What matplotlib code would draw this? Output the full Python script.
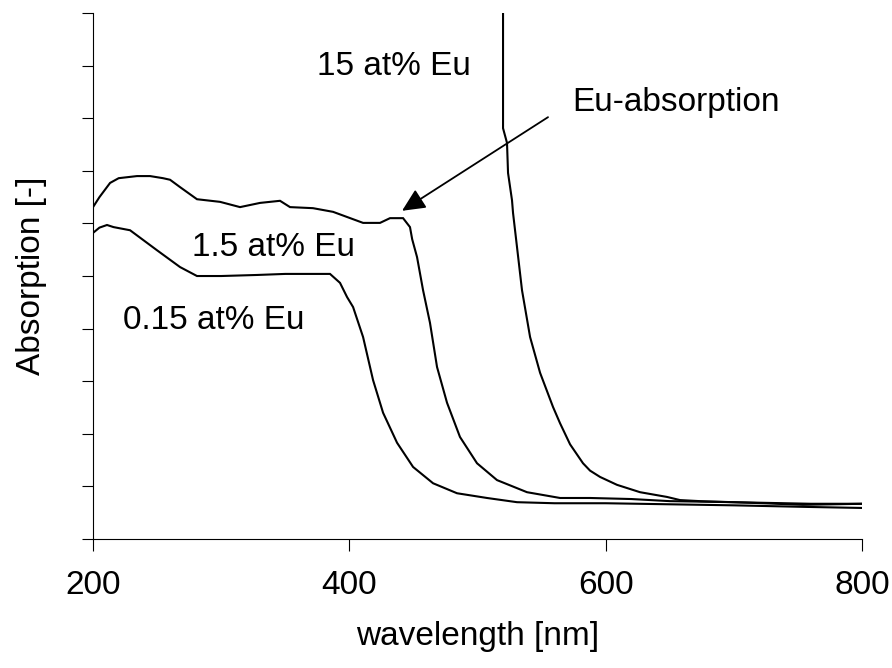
import matplotlib
matplotlib.use("Agg")
import matplotlib.pyplot as plt

plt.rcParams['font.family'] = ['Liberation Sans', 'DejaVu Sans']

# 0.15 at% Eu
wl_low = [200, 205, 210.9, 216, 228.9, 249.9, 267.9, 281.1, 300, 328, 350, 384.9, 392.7,
          398.2, 402.9, 410.7, 418.5, 426.3, 437.2, 449.7, 465.3, 484, 507.4, 530.8, 560,
          600, 650, 700, 757, 800.8]
abs_low = [5.82, 5.92, 5.97, 5.93, 5.87, 5.49, 5.17, 5.00, 5.00, 5.02, 5.04, 5.04, 4.87,
           4.60, 4.41, 3.84, 3.02, 2.40, 1.83, 1.37, 1.06, 0.87, 0.78, 0.70, 0.68,
           0.68, 0.66, 0.64, 0.61, 0.59]

# 1.5 at% Eu
wl_mid = [200, 205, 213.3, 220, 234.3, 244.5, 254.6, 260.1, 267.9, 281.1, 299.1, 314.7,
          330.3, 345.9, 353.7, 371.6, 387.3, 410.7, 423.9, 431.7, 441.9, 447.3, 449, 452.8,
          457.5, 462.9, 468.4, 476.2, 486.3, 499.6, 515.2, 538.6, 564.4, 587.8, 620, 650,
          700, 760, 800.8]
abs_mid = [6.31, 6.50, 6.77, 6.86, 6.90, 6.90, 6.86, 6.83, 6.69, 6.46, 6.41, 6.31,
           6.39, 6.43, 6.31, 6.29, 6.22, 6.01, 6.01, 6.10, 6.10, 5.93, 5.70, 5.36,
           4.73, 4.11, 3.27, 2.59, 1.94, 1.44, 1.12, 0.89, 0.78, 0.78, 0.76, 0.72,
           0.70, 0.67, 0.67]

# 15 at% Eu
wl_high = [519.9, 519.9, 523, 523.8, 526.9, 527.7, 530.8, 534.7, 541, 548.8, 558.9, 564.4,
           572.2, 582.3, 587.8, 595.6, 608.8, 626.8, 647.8, 658, 673.6, 699.3, 722.7,
           753.9, 800.8]
abs_high = [11.0, 7.81, 7.53, 6.96, 6.44, 6.20, 5.55, 4.73, 3.84, 3.16, 2.51, 2.20,
            1.80, 1.44, 1.30, 1.18, 1.03, 0.89, 0.80, 0.74, 0.72, 0.70, 0.68,
            0.65, 0.67]

x_ticks = [200, 400, 600, 800]
y_ticks = list(range(0, 11))

labels = ["0.15 at% Eu", "1.5 at% Eu", "15 at% Eu"]

fig = plt.figure(figsize=(8.92, 6.68), dpi=100)
ax = fig.add_axes([0.1043, 0.1931, 0.8621, 0.7874])

for wl, ab in [(wl_low, abs_low), (wl_mid, abs_mid), (wl_high, abs_high)]:
    ax.plot(wl, ab, color='black', lw=1.5, solid_joinstyle='miter')

ax.set_xlim(200, 800)
ax.set_ylim(0, 10)
ax.set_xticks(x_ticks)
ax.set_yticks(y_ticks)
ax.set_yticklabels([])
ax.tick_params(axis='x', direction='out', length=8.5, width=0.8, labelsize=24, pad=14)
ax.tick_params(axis='y', direction='out', length=8, width=0.8)
for s in ['top', 'right']:
    ax.spines[s].set_visible(False)
for s in ['left', 'bottom']:
    ax.spines[s].set_linewidth(0.8)

ax.set_xlabel("wavelength [nm]", fontsize=24, labelpad=14)
ax.set_ylabel("Absorption [-]", fontsize=24, labelpad=22)

ax.text(374.8, 8.99, labels[2], fontsize=24, ha='left', va='center')
ax.text(277.2, 5.55, labels[1], fontsize=24, ha='left', va='center')
ax.text(223.4, 4.16, labels[0], fontsize=24, ha='left', va='center')
ax.text(573.7, 8.29, "Eu-absorption", fontsize=24, ha='left', va='center')

ax.annotate('', xy=(441.1, 6.24), xytext=(555.0, 8.02),
            arrowprops=dict(arrowstyle='-|>,head_length=0.7,head_width=0.33',
                            mutation_scale=20, color='black', lw=1.3,
                            shrinkA=0, shrinkB=0))

fig.savefig("out.png", dpi=100)
